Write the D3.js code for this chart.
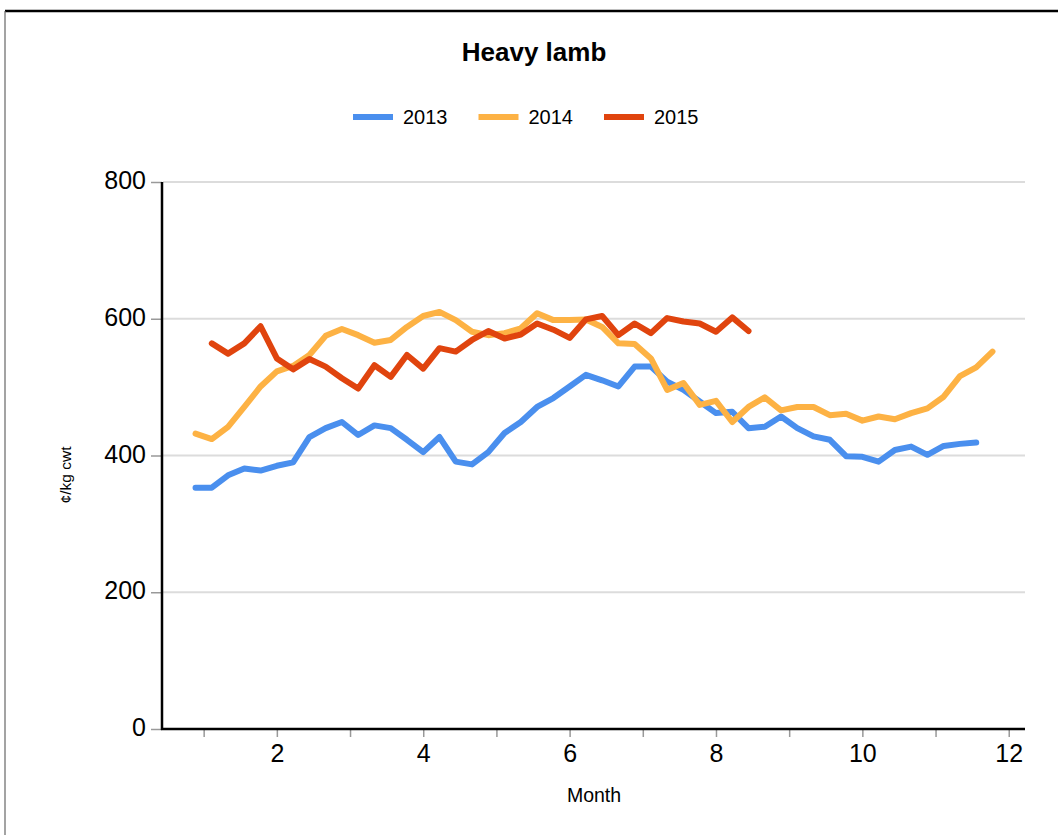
<!DOCTYPE html>
<head>
  <meta charset="utf-8">
</head>
<style>
body { margin: 0; background: #fff; }
svg { font-family: "Liberation Sans", Arial, sans-serif; }
</style>
<body>
<svg width="1058" height="835"></svg>
<script src="https://d3js.org/d3.v7.min.js"></script>
<script>
// weekly prices, c/kg cwt; first point is the week number given below
var years = ["2013", "2014", "2015"];
var colors = ["#4a8fee", "#fdb244", "#e0440e"];
var firstWeek = [4, 4, 5];

var values2013 = [353, 353, 371, 381, 378, 385, 390, 427, 440, 449, 430, 444, 440, 423, 405, 427, 391,
  387, 405, 433, 449, 471, 484, 501, 518, 510, 501, 530, 530, 508, 496, 479, 462, 464, 440, 442,
  457, 440, 428, 423, 399, 398, 391, 408, 413, 401, 414, 417, 419];
var values2014 = [432, 424, 442, 471, 501, 523, 531, 547, 575, 585, 576, 565, 569, 588, 604, 610, 598,
  581, 576, 579, 586, 608, 598, 598, 599, 588, 564, 563, 542, 496, 506, 474, 480, 449, 471, 485,
  466, 471, 471, 459, 461, 451, 457, 453, 462, 469, 486, 516, 529, 552];
var values2015 = [564, 549, 564, 589, 542, 526, 541, 530, 513, 498, 532, 515, 547, 527, 557, 552, 569,
  582, 571, 577, 593, 584, 572, 599, 604, 576, 593, 579, 601, 596, 593, 581, 602, 582];

var yTicks = [0, 200, 400, 600, 800];
var xTicks = [1, 2, 3, 4, 5, 6, 7, 8, 9, 10, 11, 12];
var WEEKS_PER_MONTH = 4.5;

var allValues = [values2013, values2014, values2015];
var series = years.map(function(y, i) {
  return {
    key: y,
    color: colors[i],
    points: allValues[i].map(function(v, j) {
      return { month: (firstWeek[i] + j) / WEEKS_PER_MONTH, value: v };
    })
  };
});

var svg = d3.select("svg");

// outer frame (top + left edges visible)
svg.append("line").attr("x1", 5).attr("x2", 1058).attr("y1", 11).attr("y2", 11)
    .attr("stroke", "#000").attr("stroke-width", 2.5);
svg.append("line").attr("x1", 5).attr("x2", 5).attr("y1", 11).attr("y2", 835)
    .attr("stroke", "#666").attr("stroke-width", 1.2);

var x = d3.scaleLinear().domain([2 / WEEKS_PER_MONTH, 55 / WEEKS_PER_MONTH]).range([163, 1025]);
var y = d3.scaleLinear().domain([0, 800]).range([729, 182]);

// gridlines
svg.append("g")
  .selectAll("line")
  .data(yTicks.filter(function(d) { return d > 0; }))
  .enter().append("line")
    .attr("x1", 163).attr("x2", 1025)
    .attr("y1", function(d) { return y(d); })
    .attr("y2", function(d) { return y(d); })
    .attr("stroke", "#dcdcdc").attr("stroke-width", 2);

// y axis
var yAxis = svg.append("g")
    .attr("transform", "translate(162,0)")
    .call(d3.axisLeft(y).tickValues(yTicks).tickSize(11).tickPadding(5));
yAxis.select(".domain").remove();
yAxis.selectAll(".tick line").attr("stroke", "#999").attr("stroke-width", 1.5);
yAxis.selectAll(".tick text").attr("font-size", 25).attr("fill", "#000")
    .attr("dy", "0.26em")
    .attr("font-family", "Liberation Sans, Arial, sans-serif");

// x axis
var xAxis = svg.append("g")
    .attr("transform", "translate(0,729)")
    .call(d3.axisBottom(x).tickValues(xTicks).tickSize(8).tickPadding(7)
      .tickFormat(function(d) { return d % 2 === 0 ? d : ""; }));
xAxis.select(".domain").remove();
xAxis.selectAll(".tick line").attr("stroke", "#999").attr("stroke-width", 1.5);
xAxis.selectAll(".tick text").attr("font-size", 25).attr("fill", "#000")
    .attr("font-family", "Liberation Sans, Arial, sans-serif");

// axis lines
svg.append("line").attr("x1", 162).attr("x2", 162).attr("y1", 182).attr("y2", 730)
    .attr("stroke", "#000").attr("stroke-width", 2.5);
svg.append("line").attr("x1", 161).attr("x2", 1025).attr("y1", 729).attr("y2", 729)
    .attr("stroke", "#000").attr("stroke-width", 2.5);

// series lines
var line = d3.line()
    .x(function(d) { return x(d.month); })
    .y(function(d) { return y(d.value); });

svg.append("g")
  .selectAll("path")
  .data(series)
  .enter().append("path")
    .attr("d", function(d) { return line(d.points); })
    .attr("fill", "none")
    .attr("stroke", function(d) { return d.color; })
    .attr("stroke-width", 6)
    .attr("stroke-linejoin", "round")
    .attr("stroke-linecap", "round");

// title
svg.append("text")
    .attr("x", 534).attr("y", 61)
    .attr("text-anchor", "middle")
    .attr("font-size", 26).attr("font-weight", "bold")
    .text("Heavy lamb");

// legend
var legend = svg.append("g")
  .selectAll("g")
  .data(series)
  .enter().append("g")
    .attr("transform", function(d, i) { return "translate(" + (353 + i * 125.5) + ",117)"; });
legend.append("line")
    .attr("x1", 0).attr("x2", 40)
    .attr("stroke", function(d) { return d.color; })
    .attr("stroke-width", 6);
legend.append("text")
    .attr("x", 50).attr("dy", "0.36em")
    .attr("font-size", 20)
    .text(function(d) { return d.key; });

// axis titles
svg.append("text")
    .attr("x", 594).attr("y", 802)
    .attr("text-anchor", "middle")
    .attr("font-size", 19.5)
    .text("Month");

svg.append("text")
    .attr("transform", "translate(71,475) rotate(-90)")
    .attr("text-anchor", "middle")
    .attr("font-size", 15.5)
    .text("¢/kg cwt");
</script>
</body>
